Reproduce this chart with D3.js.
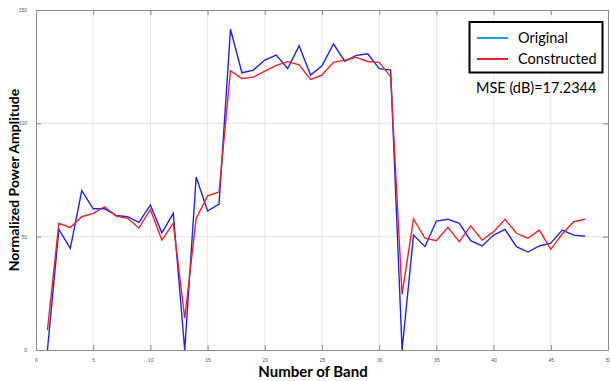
<!DOCTYPE html>
<html>
<head>
<meta charset="utf-8">
<script src="https://cdn.jsdelivr.net/npm/d3@7"></script>
<style>
  body { margin: 0; background: #fff; }
  svg { display: block; }
</style>
</head>
<body>
<div id="chart"></div>
<script>
var bands = d3.range(1, 49);

var original = [0, 53.2, 44.8, 70.3, 62.3, 62.3, 59.4, 58.8, 56.3, 64,
  51.7, 60.3, 0, 76.3, 61.3, 64.4, 141.5, 122.3, 123.5, 127.9,
  130.1, 124.2, 134.2, 121.3, 125.4, 135, 127.3, 130, 130.7, 124.1,
  123.5, 0, 50.7, 45.6, 56.9, 57.7, 55.9, 48.2, 45.9, 50.7,
  53.2, 45.6, 43.2, 45.9, 47.1, 52.9, 50.7, 50.2];

var constructed = [8.8, 55.9, 54, 58.8, 60.3, 63.2, 59.1, 58.1, 53.8, 62,
  48.5, 55.9, 14, 58, 68, 69.7, 123.2, 119.8, 120.4, 123,
  125.6, 127.2, 125.8, 119.4, 121.3, 126.9, 127.9, 129.1, 127.3, 126.9,
  120.6, 24.6, 57.8, 49.3, 48.2, 54.1, 47.8, 54.8, 48.5, 52.2,
  57.7, 51.5, 49.3, 52.9, 44.4, 51.2, 56.6, 57.7];

var xTicks = [0, 5, 10, 15, 20, 25, 30, 35, 40, 45, 50];
var yTicks = [0, 50, 100, 150];

var width = 610, height = 381;
var margin = {left: 36, right: 2, top: 10, bottom: 31};

var svg = d3.select("#chart").append("svg")
    .attr("width", width)
    .attr("height", height);

var x = d3.scaleLinear().domain([0, 50]).range([margin.left, width - margin.right]);
var y = d3.scaleLinear().domain([0, 150]).range([height - margin.bottom, margin.top]);

// grid
svg.append("g")
    .selectAll("line.vg")
    .data(xTicks.slice(1, -1))
    .enter().append("line")
    .attr("x1", function(d) { return x(d); })
    .attr("x2", function(d) { return x(d); })
    .attr("y1", y(0))
    .attr("y2", y(150))
    .attr("stroke", "#e6e6e6")
    .attr("stroke-width", 1);

svg.append("g")
    .selectAll("line.hg")
    .data(yTicks.slice(1, -1))
    .enter().append("line")
    .attr("x1", x(0))
    .attr("x2", x(50))
    .attr("y1", function(d) { return y(d); })
    .attr("y2", function(d) { return y(d); })
    .attr("stroke", "#e6e6e6")
    .attr("stroke-width", 1);

// axes (ticks point inward, like matlab)
var axisColor = "#8a8a8a";
function styleAxis(g) {
  g.select(".domain").attr("stroke", axisColor);
  g.selectAll(".tick line").attr("stroke", axisColor);
  g.selectAll(".tick text")
      .attr("fill", "#555")
      .style("font-family", "Liberation Sans, Arial, sans-serif")
      .style("font-size", "5px");
}

svg.append("g")
    .attr("transform", "translate(0," + y(0) + ")")
    .call(d3.axisBottom(x).tickValues(xTicks).tickSizeInner(-5).tickSizeOuter(0).tickPadding(8))
    .call(styleAxis);

svg.append("g")
    .attr("transform", "translate(0," + y(150) + ")")
    .call(d3.axisTop(x).tickValues(xTicks).tickSizeInner(-5).tickSizeOuter(0).tickFormat(""))
    .call(styleAxis);

svg.append("g")
    .attr("transform", "translate(" + x(0) + ",0)")
    .call(d3.axisLeft(y).tickValues(yTicks).tickSizeInner(-5).tickSizeOuter(0).tickPadding(9))
    .call(styleAxis);

svg.append("g")
    .attr("transform", "translate(" + x(50) + ",0)")
    .call(d3.axisRight(y).tickValues(yTicks).tickSizeInner(-5).tickSizeOuter(0).tickFormat(""))
    .call(styleAxis);

// lines
var line = function(vals) {
  return d3.line()
      .x(function(d, i) { return x(bands[i]); })
      .y(function(d) { return y(d); })(vals);
};

svg.append("path")
    .attr("d", line(original))
    .attr("fill", "none")
    .attr("stroke", "#2323e6")
    .attr("stroke-width", 1.4);

svg.append("path")
    .attr("d", line(constructed))
    .attr("fill", "none")
    .attr("stroke", "#e8222a")
    .attr("stroke-width", 1.4);

// labels
svg.append("text")
    .attr("x", 313)
    .attr("y", 377)
    .attr("text-anchor", "middle")
    .style("font-family", "Lato, sans-serif")
    .style("font-weight", "bold")
    .style("font-size", "15px")
    .text("Number of Band");

svg.append("text")
    .attr("transform", "translate(19," + 180 + ") rotate(-90)")
    .attr("text-anchor", "middle")
    .style("font-family", "Lato, sans-serif")
    .style("font-weight", "bold")
    .style("font-size", "14px")
    .text("Normalized  Power Amplitude");

// legend
var legend = svg.append("g");
legend.append("rect")
    .attr("x", 469.5)
    .attr("y", 22)
    .attr("width", 133)
    .attr("height", 50.5)
    .attr("fill", "#fff")
    .attr("stroke", "#000")
    .attr("stroke-width", 2);

var legendItems = [
  {name: "Original", color: "#1aa3e0"},
  {name: "Constructed", color: "#e8222a"}
];
legendItems.forEach(function(d, i) {
  var ly = 38 + i * 21;
  legend.append("line")
      .attr("x1", 477).attr("x2", 508)
      .attr("y1", ly).attr("y2", ly)
      .attr("stroke", d.color)
      .attr("stroke-width", 2);
  legend.append("text")
      .attr("x", 518)
      .attr("y", ly + 5)
      .style("font-family", "Lato, sans-serif")
      .style("font-size", "14.5px")
      .text(d.name);
});

svg.append("text")
    .attr("x", 476)
    .attr("y", 93)
    .style("font-family", "Lato, sans-serif")
    .style("font-size", "14.5px")
    .text("MSE (dB)=17.2344");
</script>
</body>
</html>
